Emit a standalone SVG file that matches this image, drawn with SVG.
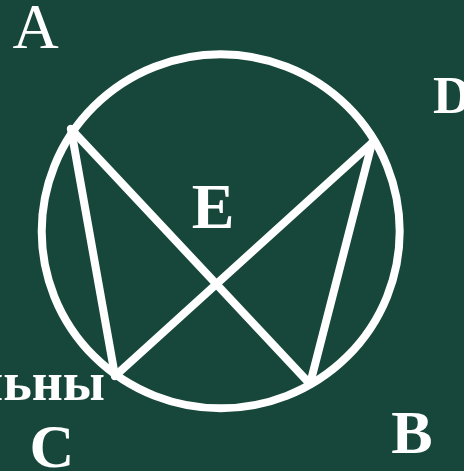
<svg xmlns="http://www.w3.org/2000/svg" width="464" height="471" viewBox="0 0 464 471">
<style>
.ln{stroke:#fff;stroke-width:8;fill:none;stroke-linecap:round}
.t{font-family:"Liberation Serif","Times New Roman",serif;fill:#fff;font-weight:bold}
</style>
<rect width="464" height="471" fill="#17473a"/>
<g id="circle"><ellipse cx="220.7" cy="231.3" rx="179" ry="177" class="ln"/></g>
<g id="connectors">
<line x1="71" y1="129" x2="310" y2="384" class="ln"/>
<line x1="71" y1="129" x2="115" y2="376" class="ln"/>
<line x1="115" y1="376" x2="372" y2="143" class="ln"/>
<line x1="372" y1="143" x2="310" y2="384" class="ln"/>
</g>
<g id="A"><text x="35.5" y="48" class="t" style="font-weight:normal" font-size="64" text-anchor="middle">A</text></g>
<g id="D"><text x="433" y="113" class="t" font-size="53">D</text></g>
<g id="E"><text x="213" y="228" class="t" font-size="64" text-anchor="middle">E</text></g>
<g id="label"><text x="105" y="400" class="t" font-size="54" text-anchor="end">ньны</text></g>
<g id="C"><text x="52" y="467" class="t" font-size="62" text-anchor="middle">C</text></g>
<g id="B"><text x="412" y="453" class="t" font-size="62" text-anchor="middle">B</text></g>
</svg>
